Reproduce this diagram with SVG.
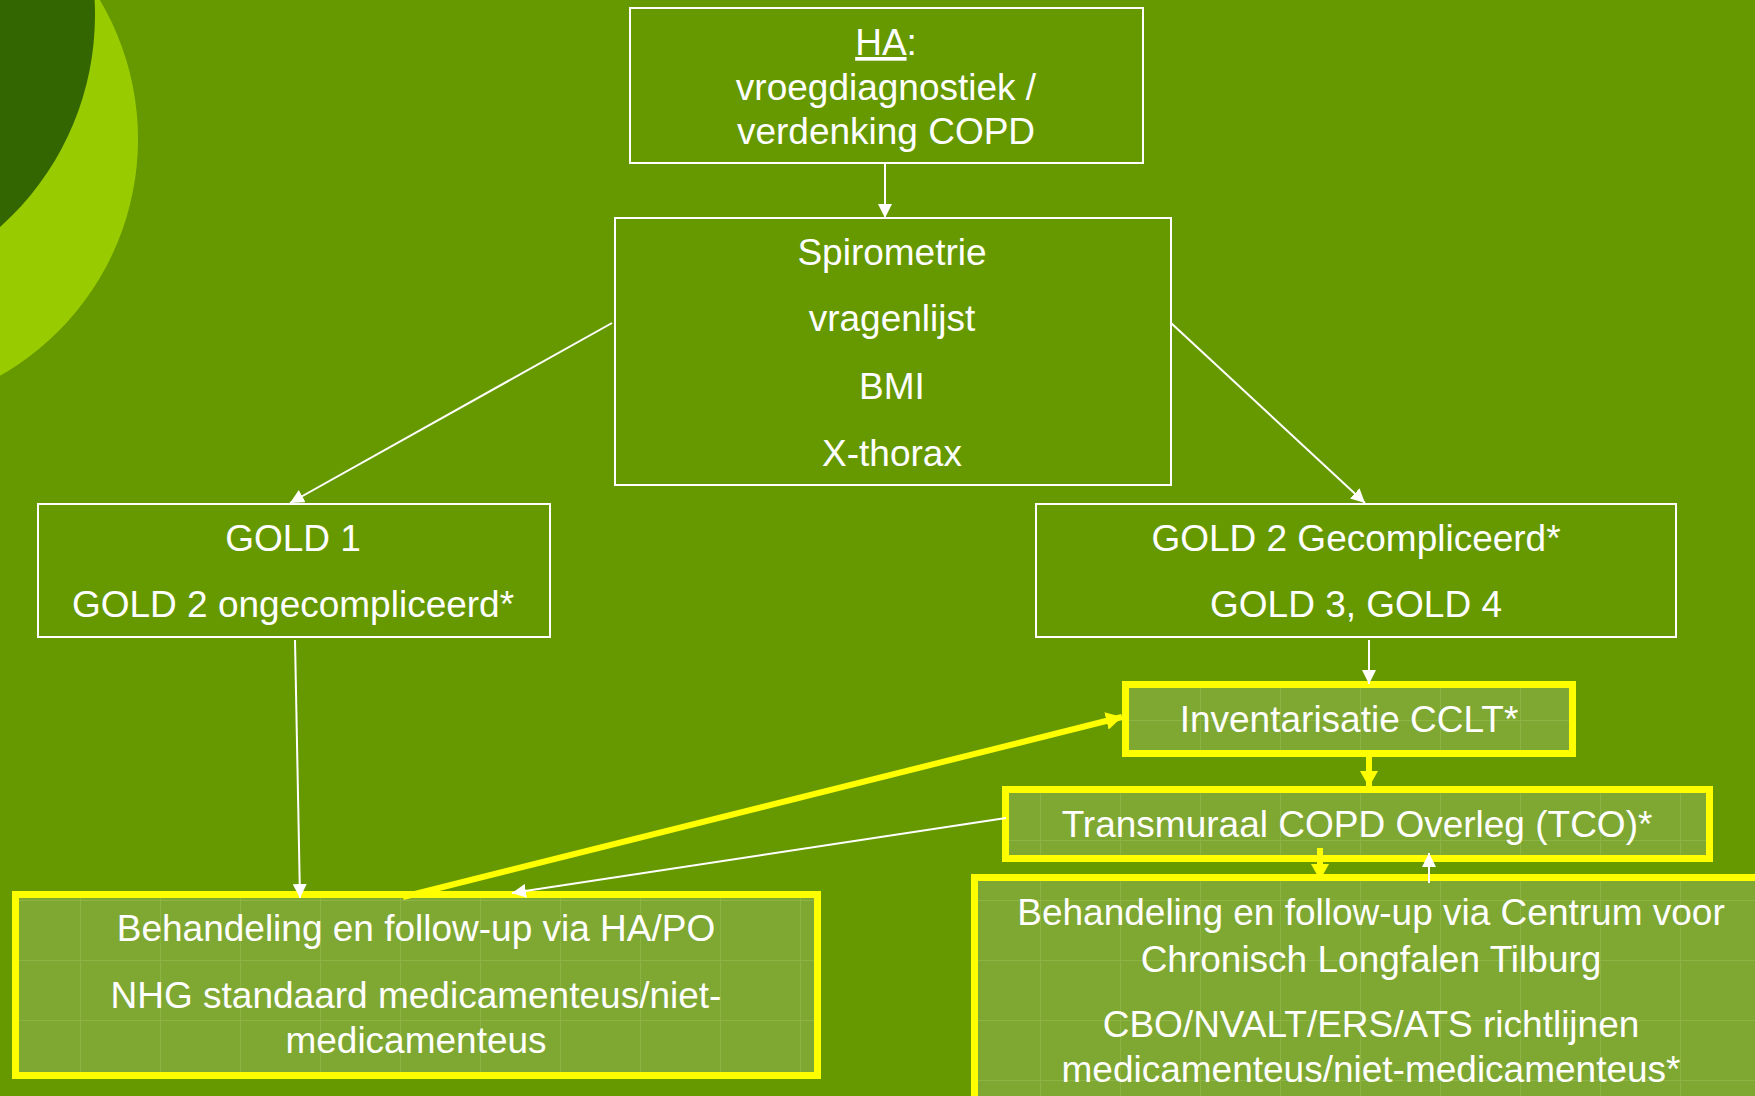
<svg xmlns="http://www.w3.org/2000/svg" width="1755" height="1096" viewBox="0 0 1755 1096">
<style>
.bg{fill:#669900}
.box{fill:none;stroke:#ffffff;stroke-width:2}
.ybox{fill:#7fa832;stroke:#ffff00;stroke-width:7}
.t{font-family:"Liberation Sans",Arial,sans-serif;font-size:37px;fill:#ffffff;text-anchor:middle}
.w{stroke:#ffffff;stroke-width:2;fill:none}
.y{stroke:#ffff00;stroke-width:6;fill:none}
</style>
<defs>
<marker id="aw" markerUnits="userSpaceOnUse" markerWidth="14" markerHeight="14" refX="14" refY="7" orient="auto">
<path d="M0,0 L14,7 L0,14 z" fill="#ffffff"/>
</marker>
<marker id="ay" markerUnits="userSpaceOnUse" markerWidth="17" markerHeight="18" refX="16" refY="9" orient="auto">
<path d="M0,0 L16,9 L0,18 z" fill="#ffff00"/>
</marker>
<pattern id="grid" patternUnits="userSpaceOnUse" width="80" height="60">
<rect width="80" height="60" fill="#7fa832"/>
<path d="M0,0.5 H80 M0.5,0 V60" stroke="#b8d47a" stroke-width="1" opacity="0.25"/>
</pattern>
</defs>
<rect class="bg" x="0" y="0" width="1755" height="1096"/>
<circle cx="-134" cy="139" r="272" fill="#99cc00"/>
<circle cx="-189" cy="15" r="284" fill="#336600"/>

<g id="node-ha">
<rect class="box" x="630" y="8" width="513" height="155"/>
<text class="t" x="886" y="55"><tspan text-decoration="underline">HA</tspan>:</text>
<text class="t" x="886" y="100">vroegdiagnostiek /</text>
<text class="t" x="886" y="144">verdenking COPD</text>
</g>

<g id="node-spiro">
<rect class="box" x="615" y="218" width="556" height="267"/>
<text class="t" x="892" y="265">Spirometrie</text>
<text class="t" x="892" y="331">vragenlijst</text>
<text class="t" x="892" y="399">BMI</text>
<text class="t" x="892" y="466">X-thorax</text>
</g>

<g id="node-gold1">
<rect class="box" x="38" y="504" width="512" height="133"/>
<text class="t" x="293" y="551">GOLD 1</text>
<text class="t" x="293" y="617">GOLD 2 ongecompliceerd*</text>
</g>

<g id="node-gold2">
<rect class="box" x="1036" y="504" width="640" height="133"/>
<text class="t" x="1356" y="551">GOLD 2 Gecompliceerd*</text>
<text class="t" x="1356" y="617">GOLD 3, GOLD 4</text>
</g>

<g id="node-inv">
<rect class="ybox" x="1125.5" y="684.5" width="447" height="69" style="fill:url(#grid)"/>
<text class="t" x="1349" y="732">Inventarisatie CCLT*</text>
</g>

<g id="node-tco">
<rect class="ybox" x="1005.5" y="789.5" width="704" height="69" style="fill:url(#grid)"/>
<text class="t" x="1357" y="837">Transmuraal COPD Overleg (TCO)*</text>
</g>

<g id="node-ha-po">
<rect class="ybox" x="15.5" y="894.5" width="802" height="181" style="fill:url(#grid)"/>
<text class="t" x="416" y="941">Behandeling en follow-up via HA/PO</text>
<text class="t" x="416" y="1008">NHG standaard medicamenteus/niet-</text>
<text class="t" x="416" y="1053">medicamenteus</text>
</g>

<g id="node-cclt">
<rect class="ybox" x="974.5" y="877.5" width="820" height="260" style="fill:url(#grid)"/>
<text class="t" x="1371" y="925">Behandeling en follow-up via Centrum voor</text>
<text class="t" x="1371" y="972">Chronisch Longfalen Tilburg</text>
<text class="t" x="1371" y="1037">CBO/NVALT/ERS/ATS richtlijnen</text>
<text class="t" x="1371" y="1082">medicamenteus/niet-medicamenteus*</text>
</g>

<g id="connectors">
<line class="w" x1="885" y1="163" x2="885" y2="218" marker-end="url(#aw)"/>
<line class="w" x1="612" y1="323" x2="290" y2="503" marker-end="url(#aw)"/>
<line class="w" x1="1171" y1="323" x2="1365" y2="503" marker-end="url(#aw)"/>
<line class="w" x1="295" y1="640" x2="300" y2="898" marker-end="url(#aw)"/>
<line class="w" x1="1369" y1="640" x2="1369" y2="684" marker-end="url(#aw)"/>
<line class="y" x1="1369" y1="757" x2="1369" y2="787" marker-end="url(#ay)"/>
<line class="y" x1="1320" y1="848" x2="1320" y2="880" marker-end="url(#ay)"/>
<line class="w" x1="1429" y1="883" x2="1429" y2="853" marker-end="url(#aw)"/>
<line class="y" x1="403" y1="897" x2="1122" y2="717" marker-end="url(#ay)"/>
<line class="w" x1="1006" y1="818" x2="512" y2="893" marker-end="url(#aw)"/>
</g>
</svg>
